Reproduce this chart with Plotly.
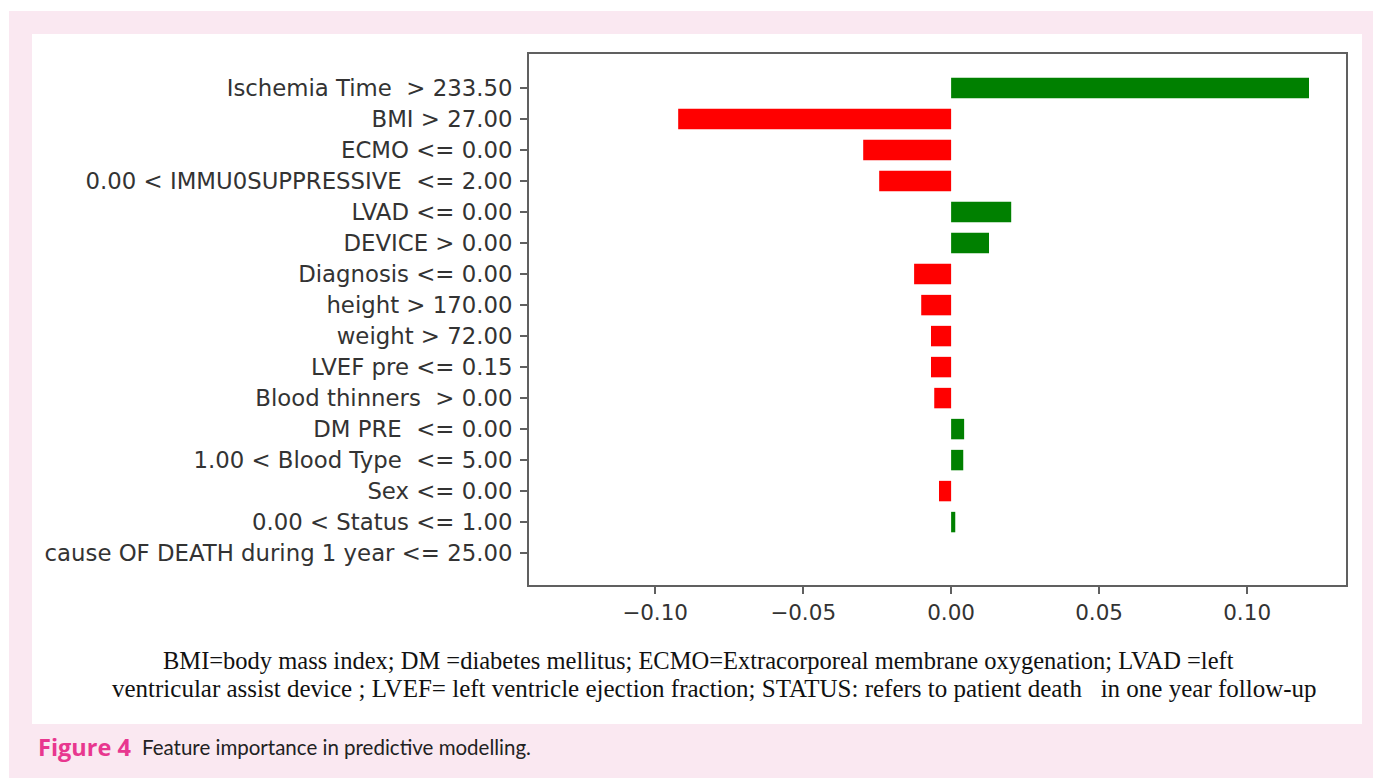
import plotly.graph_objects as go

features = [
    "Ischemia Time  > 233.50",
    "BMI > 27.00",
    "ECMO <= 0.00",
    "0.00 < IMMU0SUPPRESSIVE  <= 2.00",
    "LVAD <= 0.00",
    "DEVICE > 0.00",
    "Diagnosis <= 0.00",
    "height > 170.00",
    "weight > 72.00",
    "LVEF pre <= 0.15",
    "Blood thinners  > 0.00",
    "DM PRE  <= 0.00",
    "1.00 < Blood Type  <= 5.00",
    "Sex <= 0.00",
    "0.00 < Status <= 1.00",
    "cause OF DEATH during 1 year <= 25.00",
]
values = [0.1209, -0.0922, -0.0297, -0.0243, 0.0203, 0.0128, -0.0125, -0.0101,
          -0.0068, -0.0068, -0.0057, 0.0044, 0.0041, -0.0041, 0.0014, 0.0]
x_ticks = [-0.10, -0.05, 0.00, 0.05, 0.10]
x_tick_labels = ["\u22120.10", "\u22120.05", "0.00", "0.05", "0.10"]

caption_lines = [
    "BMI=body mass index; DM =diabetes mellitus; ECMO=Extracorporeal membrane oxygenation; LVAD =left",
    "ventricular assist device ; LVEF= left ventricle ejection fraction; STATUS: refers to patient death   in one year follow-up",
]
fig_label = "Figure 4"
fig_title = "Feature importance in predictive modelling."

colors = ["#008000" if v > 0 else "#FF0000" for v in values]

W, H = 1373, 778
L, R, T, B = 529, 1346, 54, 585

def px(x):
    return (x - L) / (R - L)

def py(y):
    return (B - y) / (B - T)

fig = go.Figure()
fig.add_trace(go.Bar(
    x=values, y=features, orientation="h",
    marker=dict(color=colors, line=dict(width=0)),
    width=0.66, hoverinfo="x+y",
))

fig.update_layout(
    width=W, height=H,
    margin=dict(l=L, r=W - R, t=T, b=H - B, pad=0),
    paper_bgcolor="#FFFFFF",
    plot_bgcolor="#FFFFFF",
    showlegend=False,
    font=dict(family="DejaVu Sans", color="#333333"),
    xaxis=dict(
        range=[-0.1426, 0.1334],
        tickvals=x_ticks, ticktext=x_tick_labels,
        showgrid=False, zeroline=False,
        showline=True, mirror=True, linecolor="#606060", linewidth=2,
        ticks="outside", ticklen=7, tickwidth=1.5, tickcolor="#606060",
        tickfont=dict(family="DejaVu Sans", size=21.5, color="#333333"),
    ),
    yaxis=dict(
        type="category",
        categoryorder="array", categoryarray=features,
        range=[16.03, -1.1],
        showgrid=False, zeroline=False,
        showline=True, mirror=True, linecolor="#606060", linewidth=2,
        ticks="outside", ticklen=7, tickwidth=1.5, tickcolor="#606060",
        ticklabelstandoff=3,
        tickfont=dict(family="DejaVu Sans", size=22.8, color="#333333"),
    ),
)

# pink page background and white panel
fig.add_shape(type="rect", xref="paper", yref="paper", layer="below",
              x0=px(9), x1=px(W + 5), y0=py(H + 5), y1=py(11),
              fillcolor="#FAE8F1", line=dict(width=0))
fig.add_shape(type="rect", xref="paper", yref="paper", layer="below",
              x0=px(32), x1=px(1362), y0=py(724), y1=py(34),
              fillcolor="#FFFFFF", line=dict(width=0))

# caption inside panel
caption_x = [698, 714]
caption_size = [24.5, 25]
for i, line in enumerate(caption_lines):
    fig.add_annotation(
        text=line, xref="paper", yref="paper",
        x=px(caption_x[i]), y=py(660 + i * 28), xanchor="center", yanchor="middle",
        showarrow=False,
        font=dict(family="Liberation Serif", size=caption_size[i], color="#111111"),
    )

fig.add_annotation(
    text=f"<b>{fig_label}</b>", xref="paper", yref="paper",
    x=px(36), y=py(747), xanchor="left", yanchor="middle", showarrow=False,
    font=dict(family="Open Sans", size=23.5, color="#E8378F"),
)
fig.add_annotation(
    text=fig_title, xref="paper", yref="paper",
    x=px(140), y=py(747), xanchor="left", yanchor="middle", showarrow=False,
    font=dict(family="Lato", size=20.5, color="#222222"),
)

fig.write_html("out.html")
